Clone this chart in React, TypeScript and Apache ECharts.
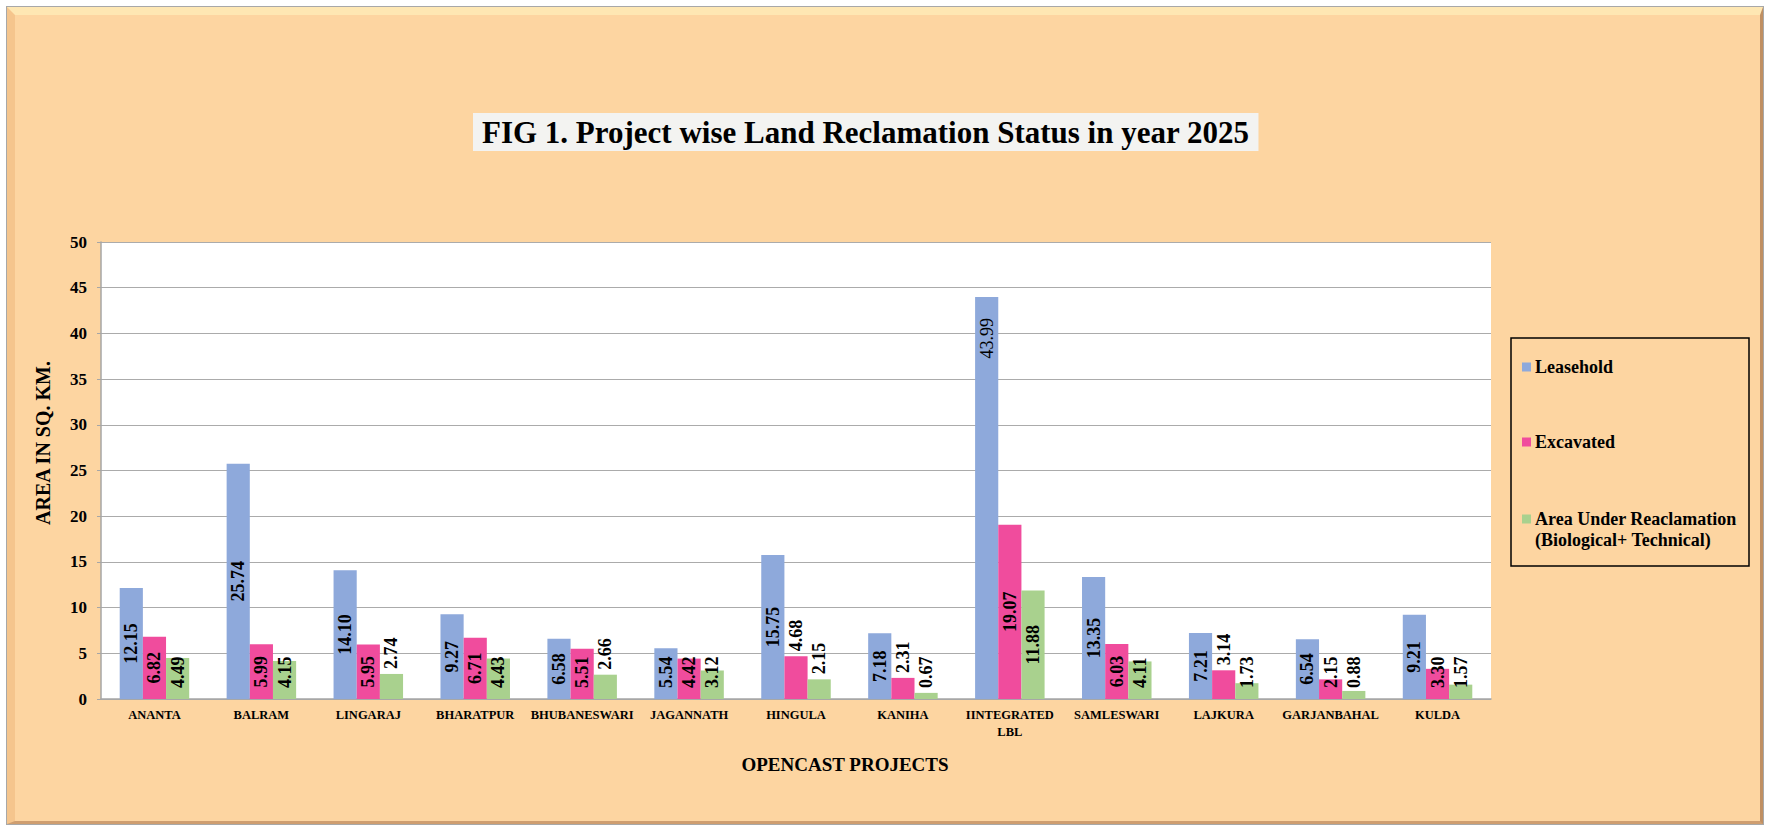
import React, { useEffect, useRef } from "react";
import * as echarts from "echarts";

const categories = [
  "ANANTA",
  "BALRAM",
  "LINGARAJ",
  "BHARATPUR",
  "BHUBANESWARI",
  "JAGANNATH",
  "HINGULA",
  "KANIHA",
  "IINTEGRATED LBL",
  "SAMLESWARI",
  "LAJKURA",
  "GARJANBAHAL",
  "KULDA",
];
const leasehold = [12.15, 25.74, 14.1, 9.27, 6.58, 5.54, 15.75, 7.18, 43.99, 13.35, 7.21, 6.54, 9.21];
const excavated = [6.82, 5.99, 5.95, 6.71, 5.51, 4.42, 4.68, 2.31, 19.07, 6.03, 3.14, 2.15, 3.3];
const reclamation = [4.49, 4.15, 2.74, 4.43, 2.66, 3.12, 2.15, 0.67, 11.88, 4.11, 1.73, 0.88, 1.57];
const seriesNames = ["Leasehold", "Excavated", "Area Under Reaclamation (Biological+ Technical)"];
const legendLabels = ["Leasehold", "Excavated", "Area Under Reaclamation\n(Biological+ Technical)"];
const seriesColors = ["#8EA9DB", "#F04C9D", "#A9D18E"];
// indices (per series) whose value label sits above the bar
const labelsAbove: number[][] = [[], [6, 7, 10], [2, 4, 6]];
// indices (per series) whose value label sits near the top inside the bar (regular weight)
const labelsInsideTop: number[][] = [[8], [], []];
const yMin = 0;
const yMax = 50;
const yInterval = 5;
const titleText = "FIG 1. Project wise Land Reclamation Status in year 2025";
const yTitle = "AREA IN SQ. KM.";
const xTitle = "OPENCAST PROJECTS";

const FONT = '"Liberation Serif", "Times New Roman", serif';

function buildSeries() {
  const all = [leasehold, excavated, reclamation];
  return all.map((vals, si) => ({
    name: seriesNames[si],
    type: "bar",
    barGap: "0%",
    barCategoryGap: "35%",
    itemStyle: { color: seriesColors[si] },
    data: vals.map((v, i) => {
      let label: any;
      if (labelsAbove[si].includes(i)) {
        label = { position: "top", align: "left", verticalAlign: "middle", distance: 5 };
      } else if (labelsInsideTop[si].includes(i)) {
        label = {
          position: "insideTop",
          align: "right",
          verticalAlign: "middle",
          distance: 21,
          fontWeight: "normal",
        };
      } else if (v >= 5.8) {
        label = { position: "inside", align: "center", verticalAlign: "middle" };
      } else {
        label = { position: "insideBottom", align: "left", verticalAlign: "middle", distance: 11 };
      }
      return { value: v, label };
    }),
    label: {
      show: true,
      rotate: 90,
      fontFamily: FONT,
      fontWeight: "bold",
      fontSize: 18,
      color: "#000",
      formatter: (p: any) => Number(p.value).toFixed(2),
    },
  }));
}

function buildLegendGraphic() {
  const els: any[] = [
    {
      type: "rect",
      shape: { x: 1511, y: 338, width: 238, height: 228 },
      style: { fill: "none", stroke: "#000", lineWidth: 1.5 },
      z: 100,
    },
  ];
  const ys = [367, 442, 519];
  ys.forEach((y, i) => {
    els.push({
      type: "rect",
      shape: { x: 1522, y: y - 4.5, width: 9, height: 9 },
      style: { fill: seriesColors[i] },
      z: 100,
    });
    els.push({
      type: "text",
      x: 1535,
      y: y - 10.5,
      style: {
        text: legendLabels[i],
        font: `bold 18px ${FONT}`,
        fill: "#000",
        verticalAlign: "top",
        lineHeight: 21,
      },
      z: 100,
    });
  });
  return els;
}

export default function App() {
  const ref = useRef<HTMLDivElement>(null);
  useEffect(() => {
    if (!ref.current) return;
    const chart = echarts.init(ref.current, null, { renderer: "svg" });
    chart.setOption({
      animation: false,
      backgroundColor: "transparent",
      title: {
        text: titleText,
        left: 473,
        top: 113,
        padding: [4, 9, 3, 9],
        backgroundColor: "#F3F3F1",
        textStyle: { fontFamily: FONT, fontWeight: "bold", fontSize: 31, color: "#000" },
      },
      grid: {
        left: 101,
        right: 274,
        top: 242,
        bottom: 127,
        show: true,
        backgroundColor: "#FFFFFF",
        borderWidth: 0,
      },
      xAxis: {
        type: "category",
        data: categories,
        axisLine: { show: true, lineStyle: { color: "#A6A6A6", width: 1.5 } },
        axisTick: { show: false },
        axisLabel: {
          interval: 0,
          margin: 7,
          fontFamily: FONT,
          fontWeight: "bold",
          fontSize: 12.5,
          lineHeight: 17,
          color: "#000",
          formatter: (v: string) => v.replace(" ", "\n"),
        },
      },
      yAxis: {
        type: "value",
        min: yMin,
        max: yMax,
        interval: yInterval,
        axisLine: { show: true, lineStyle: { color: "#A6A6A6", width: 1.5 } },
        axisTick: { show: true, length: 4, lineStyle: { color: "#A6A6A6" } },
        splitLine: { show: true, lineStyle: { color: "#ABABAB", width: 1.2 } },
        axisLabel: {
          margin: 14,
          fontFamily: FONT,
          fontWeight: "bold",
          fontSize: 17,
          color: "#000",
        },
      },
      series: buildSeries(),
      graphic: [
        {
          type: "text",
          x: 43,
          y: 443,
          rotation: Math.PI / 2,
          style: {
            text: yTitle,
            font: `bold 20px ${FONT}`,
            fill: "#000",
            align: "center",
            verticalAlign: "middle",
          },
          z: 100,
        },
        {
          type: "text",
          x: 845,
          y: 764,
          style: {
            text: xTitle,
            font: `bold 19px ${FONT}`,
            fill: "#000",
            align: "center",
            verticalAlign: "middle",
          },
          z: 100,
        },
        ...buildLegendGraphic(),
      ],
    });
    return () => chart.dispose();
  }, []);

  return (
    <div style={{ position: "absolute", left: 0, top: 0, width: 1765, height: 826, background: "#FFFFFF", overflow: "hidden" }}>
      <div
        style={{
          position: "absolute",
          left: 6,
          top: 6,
          width: 1758,
          height: 819,
          boxSizing: "border-box",
          border: "1px solid #A8A8A8",
        }}
      >
        <div
          style={{
            width: "100%",
            height: "100%",
            boxSizing: "border-box",
            background: "#FDD5A1",
            borderTop: "8px solid #FEE7B3",
            borderLeft: "8px solid #F5C58D",
            borderRight: "3px solid #C08F62",
            borderBottom: "3px solid #CF9E70",
          }}
        />
      </div>
      <div ref={ref} style={{ position: "absolute", left: 0, top: 0, width: 1765, height: 826 }} />
    </div>
  );
}
